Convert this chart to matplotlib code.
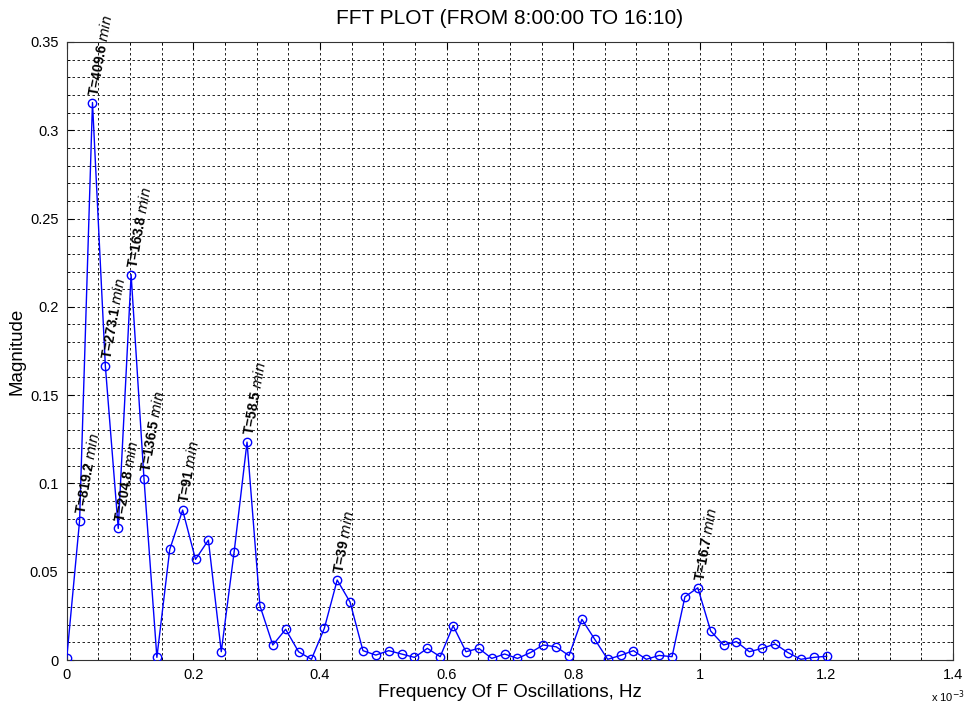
import numpy as np
import matplotlib
matplotlib.use('Agg')
import matplotlib.pyplot as plt
from matplotlib.ticker import MultipleLocator

plt.rcParams['font.family'] = ['Liberation Sans', 'DejaVu Sans']

# frequency step = 1/(819.2 min)
df_hz = 1.0 / (819.2 * 60)
magnitude = [0.001, 0.079, 0.3157, 0.1664, 0.0745, 0.2183, 0.1026, 0.0015, 0.0626, 0.0849,
             0.057, 0.0679, 0.0047, 0.0613, 0.1234, 0.0308, 0.0085, 0.0174, 0.0047, 0.0004,
             0.0179, 0.0453, 0.0328, 0.0053, 0.0028, 0.0053, 0.0034, 0.0015, 0.0066, 0.0019,
             0.0194, 0.0047, 0.0066, 0.0009, 0.0034, 0.0009, 0.0042, 0.0085, 0.0075, 0.0025,
             0.023, 0.0117, 0.0004, 0.0026, 0.0053, 0.0004, 0.0026, 0.0019, 0.0358, 0.0409,
             0.0164, 0.0085, 0.0104, 0.0047, 0.0066, 0.0091, 0.0042, 0.0004, 0.0015, 0.0021]
freq = np.arange(len(magnitude)) * df_hz * 1e3   # shown in units of 1e-3 Hz

peak_bins = [1, 2, 3, 4, 5, 6, 9, 14, 21, 49]
peak_labels = ['819.2', '409.6', '273.1', '204.8', '163.8', '136.5', '91', '58.5', '39', '16.7']

xticks = [0, 0.2, 0.4, 0.6, 0.8, 1.0, 1.2, 1.4]
xticklabels = ['0', '0.2', '0.4', '0.6', '0.8', '1', '1.2', '1.4']
yticks = [0, 0.05, 0.1, 0.15, 0.2, 0.25, 0.3, 0.35]
yticklabels = ['0', '0.05', '0.1', '0.15', '0.2', '0.25', '0.3', '0.35']

fig = plt.figure(figsize=(9.67, 7.11), dpi=100)
ax = fig.add_axes([0.069, 0.0717, 0.9165, 0.8693])

ax.plot(freq, magnitude, '-o', color='#0000ff', lw=1.0, ms=6, mfc='none', mew=1.0, zorder=3)

for k, lab in zip(peak_bins, peak_labels):
    ax.annotate('T=' + lab + r' $\mathit{min}$', (freq[k], magnitude[k]),
                xytext=(1, 5), textcoords='offset points', rotation=80,
                rotation_mode='anchor', ha='left', va='center', fontsize=10,
                fontweight='bold', zorder=4)

ax.set_xlim(0, 1.4)
ax.set_ylim(0, 0.35)
ax.set_xticks(xticks)
ax.set_xticklabels(xticklabels)
ax.set_yticks(yticks)
ax.set_yticklabels(yticklabels)
ax.xaxis.set_minor_locator(MultipleLocator(0.05))
ax.yaxis.set_minor_locator(MultipleLocator(0.01))

ax.grid(True, which='both', color='black', linestyle=(0, (3, 3)), lw=0.6)
ax.tick_params(which='both', direction='in', top=True, right=True, labelsize=10.5)
ax.tick_params(which='major', length=5, pad=6)
ax.tick_params(which='minor', length=2.5)
for s in ax.spines.values():
    s.set_color('#333333')

ax.set_title('FFT PLOT (FROM 8:00:00 TO 16:10)', fontsize=15, pad=13)
ax.set_xlabel('Frequency Of F Oscillations, Hz', fontsize=13.5, labelpad=1)
ax.set_ylabel('Magnitude', fontsize=13.5, labelpad=3)
fig.text(0.963, 0.008, r'x 10$^{-3}$', fontsize=8, ha='left', va='bottom')

fig.savefig('out.png', dpi=100)
